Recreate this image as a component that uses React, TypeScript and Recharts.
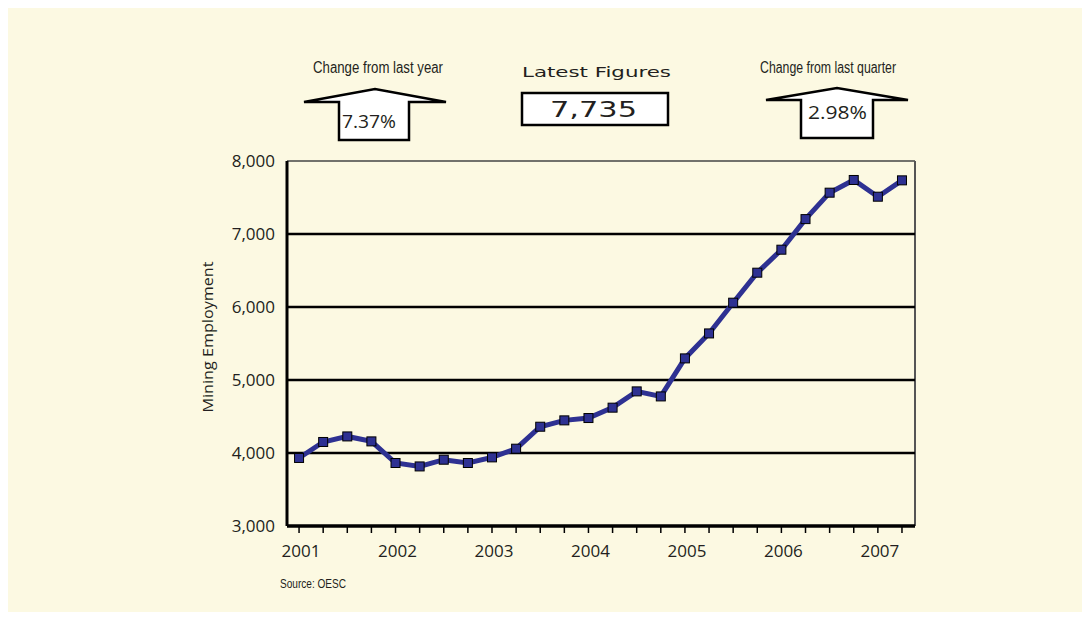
import React from "react";
import { Line, LineChart, ReferenceLine, XAxis, YAxis } from "recharts";

// quarterly mining employment, 2001 Q1 .. 2007 Q2
const quarterIndex = [
  0, 1, 2, 3, 4, 5, 6, 7, 8, 9, 10, 11, 12, 13, 14, 15, 16, 17, 18, 19, 20,
  21, 22, 23, 24, 25,
];
const employment = [
  3932, 4151, 4227, 4159, 3863, 3816, 3908, 3863, 3940, 4059, 4360, 4447,
  4479, 4621, 4844, 4775, 5296, 5638, 6059, 6470, 6785, 7204, 7566, 7740,
  7511, 7735,
];
const years = ["2001", "2002", "2003", "2004", "2005", "2006", "2007"];
const yearStart = [0, 4, 8, 12, 16, 20, 24];
const yTicks = [3000, 4000, 5000, 6000, 7000, 8000];
const gridValues = [4000, 5000, 6000, 7000];

const data = quarterIndex.map((i) => ({ i, value: employment[i] }));

const last = employment[employment.length - 1];
const prevQuarter = employment[employment.length - 2];
const prevYear = employment[employment.length - 5];
const pct = (a: number, b: number) => ((a / b - 1) * 100).toFixed(2) + "%";

const X_MAX = 25.54;
const LINE = "#2e3192";
const PANEL = "#fcf9e2";
const SANS = "'Open Sans', 'Liberation Sans', sans-serif";
const NARROW = "'Liberation Sans Narrow', 'Liberation Sans', sans-serif";

const SquareDot = (props: any) => {
  const { cx, cy, index } = props;
  if (cx == null || cy == null) return <g key={`d-${index}`} />;
  return (
    <rect
      key={`d-${index}`}
      x={cx - 4.5}
      y={cy - 4.5}
      width={9}
      height={9}
      fill={LINE}
      stroke="#000"
      strokeWidth={1}
    />
  );
};

const YearTick = (props: any) => {
  const { x, y, payload } = props;
  const k = yearStart.indexOf(payload.value);
  if (k < 0) return <g />;
  return (
    <text x={x + 2} y={y} dy={22} textAnchor="middle" fontSize={17} fontFamily={SANS} fill="#231f20">
      {years[k]}
    </text>
  );
};

const App = () => {
  return (
    <div style={{ position: "relative", width: 1090, height: 620, margin: -8, background: "#fff" }}>
      <div style={{ position: "absolute", left: 5, top: 4, width: 1080, height: 608, background: PANEL }} />
      <div style={{ position: "absolute", left: 0, top: 0 }}>
        <LineChart width={1090} height={620} data={data} margin={{ top: 161, right: 175, bottom: 64, left: 227 }}>
          <ReferenceLine y={8000} stroke="#444" strokeWidth={1.5} />
          <ReferenceLine x={X_MAX} stroke="#555" strokeWidth={2} />
          {gridValues.map((v) => (
            <ReferenceLine key={v} y={v} stroke="#000" strokeWidth={2.5} />
          ))}
          <XAxis
            dataKey="i"
            type="number"
            domain={[-0.5, X_MAX]}
            ticks={quarterIndex}
            interval={0}
            height={30}
            tickSize={7}
            axisLine={{ stroke: "#000", strokeWidth: 3.5 }}
            tickLine={{ stroke: "#000", strokeWidth: 1.5 }}
            tick={<YearTick />}
          />
          <YAxis
            type="number"
            domain={[3000, 8000]}
            ticks={yTicks}
            width={60}
            tickLine={false}
            tickMargin={6}
            axisLine={{ stroke: "#000", strokeWidth: 3 }}
            tickFormatter={(v: number) => v.toLocaleString("en-US")}
            tick={{ fontSize: 17, fontFamily: SANS, fill: "#231f20" }}
          />
          <Line
            dataKey="value"
            stroke={LINE}
            strokeWidth={5}
            dot={<SquareDot />}
            activeDot={false}
            isAnimationActive={false}
          />
        </LineChart>
      </div>
      <svg width={1090} height={620} style={{ position: "absolute", left: 0, top: 0, pointerEvents: "none" }}>
        <text
          transform="translate(213,337) rotate(-90)"
          textAnchor="middle"
          fontSize={15}
          fontFamily={SANS}
          fill="#231f20"
          textLength={151}
          lengthAdjust="spacingAndGlyphs"
        >
          Mining Employment
        </text>
        <text x={280} y={588} fontSize={12} fontFamily={NARROW} fill="#231f20" textLength={66} lengthAdjust="spacingAndGlyphs">
          Source: OESC
        </text>

        <text x={313} y={73} fontSize={16} fontFamily={NARROW} fill="#231f20" textLength={130} lengthAdjust="spacingAndGlyphs">
          Change from last year
        </text>
        <polygon
          points="304,102 375,89 446,102 409,102 409,140 339,140 339,102"
          fill="#fff"
          stroke="#000"
          strokeWidth={2.5}
          strokeLinejoin="miter"
        />
        <text x={342} y={128} fontSize={19} fontFamily={SANS} fill="#231f20" textLength={54} lengthAdjust="spacingAndGlyphs">
          {pct(last, prevYear)}
        </text>

        <text x={522} y={77} fontSize={14} fontFamily="'DejaVu Sans', sans-serif" fill="#231f20" textLength={149} lengthAdjust="spacingAndGlyphs">
          Latest Figures
        </text>
        <rect x={522} y={93} width={146} height={32} fill="#fff" stroke="#000" strokeWidth={2.5} />
        <text x={550} y={117} fontSize={21} fontFamily="'DejaVu Sans', sans-serif" fill="#231f20" textLength={87} lengthAdjust="spacingAndGlyphs">
          {last.toLocaleString("en-US")}
        </text>

        <text x={760} y={73} fontSize={16} fontFamily={NARROW} fill="#231f20" textLength={136} lengthAdjust="spacingAndGlyphs">
          Change from last quarter
        </text>
        <polygon
          points="766,100 837,88 908,100 873,100 873,138 801,138 801,100"
          fill="#fff"
          stroke="#000"
          strokeWidth={2.5}
          strokeLinejoin="miter"
        />
        <text x={808} y={119} fontSize={19} fontFamily={SANS} fill="#231f20" textLength={59} lengthAdjust="spacingAndGlyphs">
          {pct(last, prevQuarter)}
        </text>
      </svg>
    </div>
  );
};

export default App;
